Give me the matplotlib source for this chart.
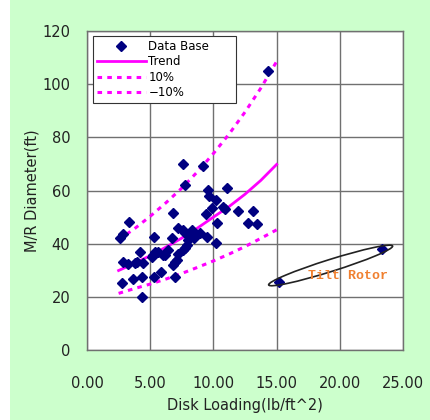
import matplotlib
matplotlib.use("Agg")
import numpy as np
from matplotlib import pyplot as plt
from matplotlib.patches import Ellipse, Rectangle
from matplotlib.ticker import FormatStrFormatter
from matplotlib.transforms import IdentityTransform

# data base points (disk loading lb/ft^2, main rotor diameter ft)
disk_loading = [14.30, 7.57, 9.20, 7.75, 9.55, 11.05, 9.68, 10.18, 10.78, 10.92,
                9.87, 6.80, 9.45, 11.95, 13.16, 10.26, 12.76, 13.47, 3.32, 7.22,
                8.28, 7.75, 8.94, 2.61, 2.85, 5.32, 6.76, 8.49, 9.47, 8.01,
                10.18, 7.89, 7.75, 7.62, 4.19, 5.38, 5.64, 6.43, 6.17, 5.12,
                5.25, 7.22, 2.87, 3.27, 3.80, 3.96, 4.45, 6.83, 7.10, 6.96,
                5.85, 2.75, 3.66, 4.33, 5.32, 6.96, 4.38, 6.04, 8.41, 7.57]
diameter = [105.1, 69.9, 69.2, 62.1, 60.2, 60.8, 58.1, 56.4, 53.8, 52.9,
            53.3, 51.5, 51.1, 52.3, 52.3, 47.8, 47.9, 47.4, 48.3, 45.8,
            45.1, 43.9, 44.0, 42.3, 43.5, 42.6, 42.0, 42.0, 42.6, 41.4,
            40.1, 39.5, 38.3, 37.6, 36.9, 37.0, 37.0, 37.6, 35.7, 35.1,
            35.7, 36.3, 33.1, 32.2, 32.6, 33.2, 32.7, 32.0, 33.9, 33.1,
            29.5, 25.2, 26.6, 27.4, 27.3, 27.4, 19.8, 35.7, 43.3, 45.1]

# tilt rotor points
tilt_loading = [15.19, 23.36]
tilt_diameter = [25.7, 37.9]

# trend and +/-10% curves
curve_x = [2.5, 3.75, 5.0, 6.25, 7.5, 8.75, 10.0, 11.25, 12.5, 13.75, 15.0]
trend_y = [29.9, 32.6, 35.5, 38.7, 42.1, 45.9, 50.0, 54.0, 58.6, 63.8, 69.8]
upper_y = [41.5, 45.6, 50.3, 55.4, 60.9, 67.1, 73.9, 81.3, 89.5, 98.5, 108.5]
lower_y = [21.3, 23.1, 24.8, 26.7, 28.8, 31.1, 33.5, 36.1, 38.9, 42.0, 45.2]

x_ticks = [0, 5, 10, 15, 20, 25]
y_ticks = [0, 20, 40, 60, 80, 100, 120]

fig = plt.figure(figsize=(4.31, 4.20), dpi=100, facecolor="#ccffcc")
fig.patches.append(Rectangle((0, 0), 10 / 431, 1, transform=fig.transFigure,
                             facecolor="white", edgecolor="none", zorder=-1))
ax = fig.add_axes([87 / 431, 70 / 420, 316 / 431, 319 / 420])
ax.set_facecolor("white")

ax.plot(disk_loading, diameter, "D", color="#000080", markersize=5.2,
        label="Data Base", zorder=4)
ax.plot(tilt_loading, tilt_diameter, "D", color="#000080", markersize=5.2, zorder=4)
ax.plot(curve_x, trend_y, "-", color="#ff00ff", lw=2, label="Trend", zorder=3)
ax.plot(curve_x, upper_y, color="#ff00ff", lw=2.2, dashes=(1.5, 1.7),
        label="10%", zorder=3)
ax.plot(curve_x, lower_y, color="#ff00ff", lw=2.2, dashes=(1.5, 1.7),
        label="\u221210%", zorder=3)

ax.set_xlim(0, 25)
ax.set_ylim(0, 120)
ax.set_xticks(x_ticks)
ax.set_yticks(y_ticks)
ax.xaxis.set_major_formatter(FormatStrFormatter("%.2f"))
ax.grid(True, color="#707070", lw=1)
ax.set_axisbelow(True)
ax.tick_params(length=0, labelsize=10.5, colors="#222222")
ax.tick_params(axis="x", pad=19)
ax.tick_params(axis="y", pad=12)
for s in ax.spines.values():
    s.set_color("#707070")
    s.set_linewidth(1)

ax.set_xlabel("Disk Loading(lb/ft^2)", fontsize=10.5, color="#222222", labelpad=5)
ax.set_ylabel("M/R Diameter(ft)", fontsize=10.5, color="#222222", labelpad=2)

leg = ax.legend(loc="upper left", bbox_to_anchor=(0.019, 0.984, 0.453, 0.0),
                mode="expand", borderaxespad=0,
                fontsize=8.5, handlelength=4.2, labelspacing=0.22, fancybox=False,
                framealpha=1, edgecolor="#333333", borderpad=0.3, handletextpad=0.2)
leg.get_frame().set_linewidth(0.8)

# ellipse around the tilt rotor points, drawn in pixel space
p = ax.transData.transform(np.column_stack([tilt_loading, tilt_diameter]))
c = p.mean(axis=0)
d = p[1] - p[0]
ang = np.degrees(np.arctan2(d[1], d[0]))
ax.add_patch(Ellipse(c, np.hypot(*d) * 1.2, 12, angle=ang, fill=False,
                     edgecolor="#222222", lw=1.2, transform=IdentityTransform(),
                     zorder=5))
ax.text(17.5, 28, "Tilt Rotor", color="#f08030", fontsize=9.5,
        family="Liberation Mono", fontweight="bold", va="center", zorder=6)

fig.savefig("out.png", dpi=100, facecolor=fig.get_facecolor())
